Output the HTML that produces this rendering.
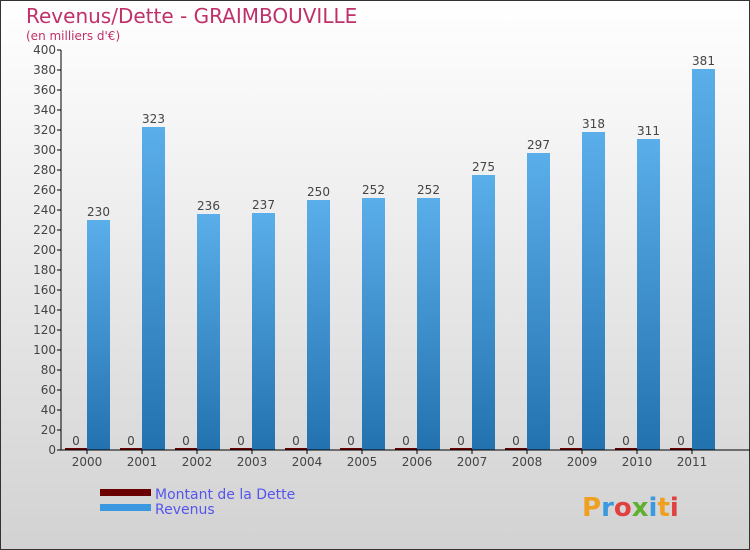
<!DOCTYPE html>
<html><head><meta charset="utf-8"><style>
body{margin:0}
#c{width:750px;height:550px;position:relative;font-family:"DejaVu Sans","Liberation Sans",sans-serif;overflow:hidden}
</style></head><body>
<div id="c">
<svg width="750" height="550" xmlns="http://www.w3.org/2000/svg" id="svg">
<defs>
<linearGradient id="bg" x1="0" y1="0" x2="0" y2="1"><stop offset="0" stop-color="#ffffff"/><stop offset="1" stop-color="#d2d2d2"/></linearGradient>
<linearGradient id="rev" x1="0" y1="0" x2="0" y2="1"><stop offset="0" stop-color="#5aaeea"/><stop offset="1" stop-color="#2372b0"/></linearGradient>
</defs>
<rect x="0.5" y="0.5" width="749" height="549" fill="url(#bg)" stroke="#333"/>
<text x="26" y="23" font-size="20" fill="#c0306a">Revenus/Dette - GRAIMBOUVILLE</text>
<text x="26" y="40" font-size="12" fill="#c0306a">(en milliers d'€)</text>
<g id="plot"></g>
<rect x="100" y="489" width="51" height="7" fill="#6b0000"/>
<text x="155" y="499" font-size="14" fill="#5555ee">Montant de la Dette</text>
<rect x="100" y="504" width="51" height="7" fill="#3a98e0"/>
<text x="155" y="514" font-size="14" fill="#5555ee">Revenus</text>
<text x="582" y="516" font-size="26" font-weight="bold"><tspan fill="#f0a020">P</tspan><tspan fill="#3a9ae0">r</tspan><tspan fill="#e04040">o</tspan><tspan fill="#60b030">x</tspan><tspan fill="#3a9ae0">i</tspan><tspan fill="#f0a020">t</tspan><tspan fill="#e04040">i</tspan></text>
</svg>
</div>
<script>
const years=["2000","2001","2002","2003","2004","2005","2006","2007","2008","2009","2010","2011"];
const revenus=[230,323,236,237,250,252,252,275,297,318,311,381];
const dette=[0,0,0,0,0,0,0,0,0,0,0,0];
const yTicks=[0,20,40,60,80,100,120,140,160,180,200,220,240,260,280,300,320,340,360,380,400];
const NS="http://www.w3.org/2000/svg";
const g=document.getElementById('plot');
const y0=450,y1=50,vmax=400,x0=61,x1=722;
const yScale=v=>y0-(v/vmax)*(y0-y1);
const step=55,first=87;
const xC=i=>first+i*step;
function mk(t,a){const e=document.createElementNS(NS,t);for(const k in a)e.setAttribute(k,a[k]);g.appendChild(e);return e;}
yTicks.forEach(v=>{
 const l=mk('line',{x1:x0-4,x2:x0,y1:yScale(v),y2:yScale(v),stroke:'#000'});
 
 
 const t=mk('text',{x:x0-5,y:yScale(v)+4,'text-anchor':'end','font-size':'12',fill:'#444'});
 t.textContent=v;
 
 
});
years.forEach((yr,i)=>{
 const cx=xC(i);
 const d=mk('rect',{x:cx-22,y:yScale(dette[i])-2,width:22,height:2+(y0-yScale(dette[i])),fill:'#6b0000'});
 
 
 const dl=mk('text',{x:cx-11,y:yScale(dette[i])-5,'text-anchor':'middle','font-size':'12',fill:'#444'});
 dl.textContent=dette[i];
 
 
 const r=mk('rect',{x:cx,y:yScale(revenus[i]),width:23,height:y0-yScale(revenus[i]),fill:'url(#rev)'});
 
 
 const rl=mk('text',{x:cx+11.5,y:yScale(revenus[i])-4,'text-anchor':'middle','font-size':'12',fill:'#444'});
 rl.textContent=revenus[i];
 
 
 const tk=mk('line',{x1:cx,x2:cx,y1:y0,y2:y0+4,stroke:'#000'});
 
 
 const xl=mk('text',{x:cx,y:y0+16,'text-anchor':'middle','font-size':'12',fill:'#444'});
 xl.textContent=yr;
 
 
});
const ya=mk('line',{x1:x0,x2:x0,y1:y1,y2:y0,stroke:'#000'});


const xa=mk('line',{x1:x0,x2:x1+28,y1:y0,y2:y0,stroke:'#000'});


</script>
</body></html>
